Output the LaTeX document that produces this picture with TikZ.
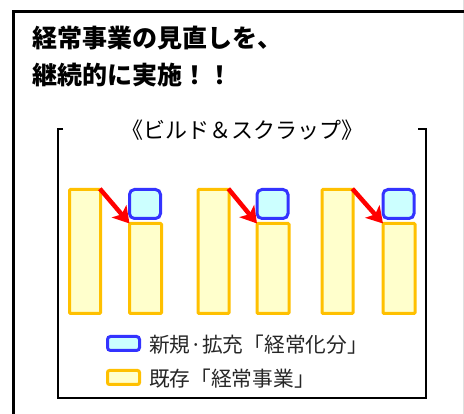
\documentclass[tikz,border=0pt]{standalone}
\usepackage{fontspec}
\newfontfamily\jp{Noto Sans CJK JP}
\usetikzlibrary{arrows.meta}
\definecolor{barline}{HTML}{FFC000}
\definecolor{barfill}{HTML}{FFFFCC}
\definecolor{newline}{HTML}{3333FF}
\definecolor{newfill}{HTML}{CCFFFF}
\definecolor{arrowred}{HTML}{FF0000}
\begin{document}
\begin{tikzpicture}[x=1pt,y=-1pt,
  bar/.style={draw=barline, fill=barfill, line width=3pt, inner sep=0pt, outer sep=0pt, rounded corners=1pt},
  tallbar/.style={bar, minimum width=31pt, minimum height=124pt},
  shortbar/.style={bar, minimum width=32pt, minimum height=90pt},
  newbox/.style={draw=newline, fill=newfill, line width=3pt, inner sep=0pt, outer sep=0pt, rounded corners=5pt, minimum width=31pt, minimum height=29pt},
  keynew/.style={draw=newline, fill=newfill, line width=3pt, inner sep=0pt, rounded corners=3pt, minimum width=32pt, minimum height=14pt},
  keyold/.style={draw=barline, fill=barfill, line width=3pt, inner sep=0pt, rounded corners=2pt, minimum width=32pt, minimum height=14pt},
  redarrow/.style={draw=arrowred, line width=4.5pt, shorten <=-1pt, -{Stealth[length=16pt,width=19pt,inset=4pt]}},
  frameline/.style={draw=black, line width=2pt},
  titletext/.style={anchor=west, inner sep=0pt, font=\jp\bfseries\fontsize{25pt}{30pt}\selectfont},
  legendtext/.style={anchor=west, inner sep=0pt, text=black!85, font=\jp\fontsize{20.7pt}{25pt}\selectfont}
]
\useasboundingbox (0,0) rectangle (464,414);
\clip (0,0) rectangle (464,414);
\fill[white] (0,0) rectangle (464,414);
% faint right edge line
\draw[black!12, line width=1pt] (463.5,0) -- (463.5,414);
% outer frame (clipped)
\draw[black, line width=3pt] (13,430) -- (13,12) -- (480,12);
% title
\node[titletext] (title1) at (32,38) {経常事業の見直しを、};
\node[titletext] (title2) at (32,75) {継続的に実施！！};
% inner bracket frame
\draw[frameline] (63,129) -- (58,129) -- (58,398) -- (426,398) -- (426,129) -- (418,129);
\node[font=\jp\fontsize{22pt}{26pt}\selectfont, inner sep=0pt] (sub) at (242.5,130) {《ビルド＆スクラップ》};
% group 1
\node[tallbar] (t1) at (85,251.5) {};
\node[newbox] (n1) at (145,204) {};
\node[shortbar] (s1) at (145.5,268.5) {};
% group 2
\node[tallbar] (t2) at (213.5,251.5) {};
\node[newbox] (n2) at (272.5,204) {};
\node[shortbar] (s2) at (273,268.5) {};
% group 3
\node[tallbar] (t3) at (337.5,251.5) {};
\node[newbox] (n3) at (398.5,204) {};
\node[shortbar] (s3) at (399,268.5) {};
% arrows
\draw[redarrow] (t1.north east) -- (s1.north west);
\draw[redarrow] (t2.north east) -- (s2.north west);
\draw[redarrow] (t3.north east) -- (s3.north west);
% legend
\node[keynew] (k1) at (123.5,343.5) {};
\node[legendtext] (l1) at (149,345) {新規·拡充「経常化分」};
\node[keyold] (k2) at (123.5,377.5) {};
\node[legendtext] (l2) at (149,379) {既存「経常事業」};
\end{tikzpicture}
\end{document}
